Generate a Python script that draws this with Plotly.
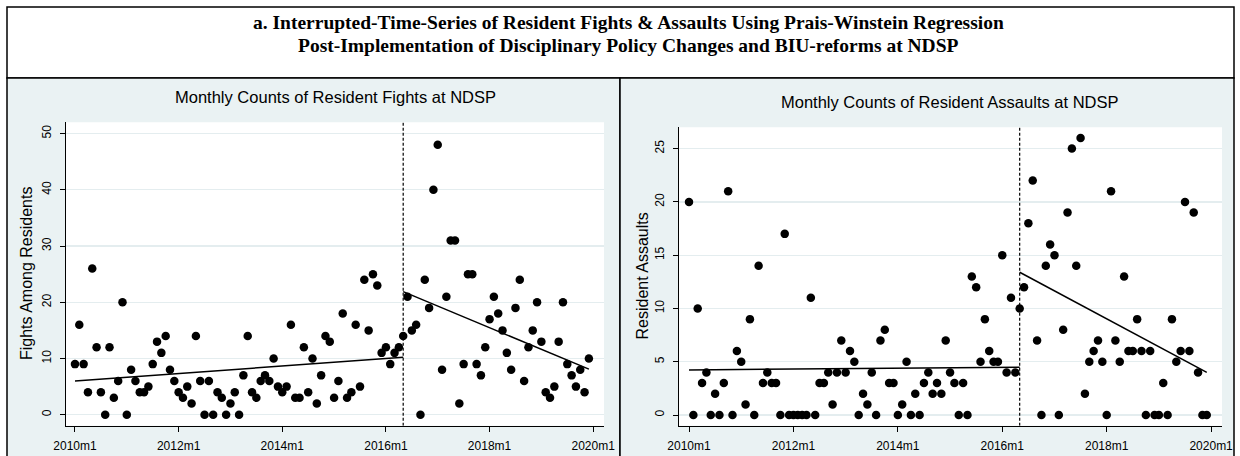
import plotly.graph_objects as go

# ---------------- data ----------------
months = list(range(120))  # 0 = 2010m1 ... 119 = 2019m12
tick_vals = [0, 24, 48, 72, 96, 120]
tick_text = ["2010m1", "2012m1", "2014m1", "2016m1", "2018m1", "2020m1"]

fights = [9, 16, 9, 4, 26, 12, 4, 0, 12, 3, 6, 20, 0, 8, 6, 4, 4, 5, 9, 13,
          11, 14, 8, 6, 4, 3, 5, 2, 14, 6, 0, 6, 0, 4, 3, 0, 2, 4, 0, 7,
          14, 4, 3, 6, 7, 6, 10, 5, 4, 5, 16, 3, 3, 12, 4, 10, 2, 7, 14, 13,
          3, 6, 18, 3, 4, 16, 5, 24, 15, 25, 23, 11, 12, 9, 11, 12, 14, 21, 15, 16,
          0, 24, 19, 40, 48, 8, 21, 31, 31, 2, 9, 25, 25, 9, 7, 12, 17, 21, 18, 15,
          11, 8, 19, 24, 6, 12, 15, 20, 13, 4, 3, 5, 13, 20, 9, 7, 5, 8, 4, 10]

assaults = [20, 0, 10, 3, 4, 0, 2, 0, 3, 21, 0, 6, 5, 1, 9, 0, 14, 3, 4, 3,
            3, 0, 17, 0, 0, 0, 0, 0, 11, 0, 3, 3, 4, 1, 4, 7, 4, 6, 5, 0,
            2, 1, 4, 0, 7, 8, 3, 3, 0, 1, 5, 0, 2, 0, 3, 4, 2, 3, 2, 7,
            4, 3, 0, 3, 0, 13, 12, 5, 9, 6, 5, 5, 15, 4, 11, 4, 10, 12, 18, 22,
            7, 0, 14, 16, 15, 0, 8, 19, 25, 14, 26, 2, 5, 6, 7, 5, 0, 21, 7, 5,
            13, 6, 6, 9, 6, 0, 6, 0, 0, 3, 0, 9, 5, 6, 20, 6, 19, 4, 0, 0]

intervention = 76  # 2016m5
fit_pre_months = [0, 76]
fit_post_months = [76, 119]
fights_fit_pre = [6.0, 10.2]
fights_fit_post = [21.9, 8.1]
assaults_fit_pre = [4.23, 4.48]
assaults_fit_post = [13.4, 4.0]

fights_yticks = [0, 10, 20, 30, 40, 50]
assaults_yticks = [0, 5, 10, 15, 20, 25]

# ---------------- layout helpers ----------------
W, H = 1240, 456
def px(x):
    return x / W
def py(y):
    return 1 - y / H

BG = "#EAF2F3"
GRID = "#E4EDEF"
SANS = "Liberation Sans, Arial, sans-serif"
SERIF = "Liberation Serif, Times New Roman, serif"

L_X = (66, 604)
L_Y = (122.3, 425.7)
R_X = (679, 1222)
R_Y = (127.3, 425.7)

fights_xrange = [-2.08, 122.5]
fights_yrange = [-1.95, 52.0]
assaults_xrange = [-2.3, 122.5]
assaults_yrange = [-1.0, 27.0]

fig = go.Figure()

def add_panel(xa, ya, counts, fit_pre, fit_post, yrange):
    fig.add_trace(go.Scatter(x=[intervention, intervention], y=yrange, mode="lines",
                             line=dict(color="black", width=1.2, dash="3px,2px"),
                             xaxis=xa, yaxis=ya, showlegend=False, hoverinfo="skip"))
    fig.add_trace(go.Scatter(x=months, y=counts, mode="markers",
                             marker=dict(color="black", size=8.5, line=dict(width=0)),
                             xaxis=xa, yaxis=ya, showlegend=False))
    fig.add_trace(go.Scatter(x=fit_pre_months, y=fit_pre, mode="lines",
                             line=dict(color="black", width=1.5),
                             xaxis=xa, yaxis=ya, showlegend=False))
    fig.add_trace(go.Scatter(x=fit_post_months, y=fit_post, mode="lines",
                             line=dict(color="black", width=1.5),
                             xaxis=xa, yaxis=ya, showlegend=False))

add_panel("x", "y", fights, fights_fit_pre, fights_fit_post, fights_yrange)
add_panel("x2", "y2", assaults, assaults_fit_pre, assaults_fit_post, assaults_yrange)

def xaxis_cfg(dom, rng, anchor):
    return dict(domain=[px(dom[0]), px(dom[1])], range=rng, tickvals=tick_vals,
                ticktext=tick_text, ticks="outside", ticklen=5, tickwidth=1,
                tickcolor="black", showline=True, linecolor="black", linewidth=1,
                showgrid=False, zeroline=False, ticklabelstandoff=4, anchor=anchor,
                automargin=False,
                tickfont=dict(family=SANS, size=12, color="black"))

def yaxis_cfg(dom, rng, ticks, anchor):
    return dict(domain=[py(dom[1]), py(dom[0])], range=rng, tickvals=ticks,
                tickangle=-90, ticks="outside", ticklen=5, tickwidth=1,
                tickcolor="black", showline=True, linecolor="black", linewidth=1,
                showgrid=True, gridcolor=GRID, gridwidth=1.2, zeroline=False,
                ticklabelstandoff=4, anchor=anchor, automargin=False,
                tickfont=dict(family=SANS, size=12, color="black"))

shapes = [
    dict(type="rect", xref="paper", yref="paper", x0=px(7), x1=px(1234), y0=py(78), y1=py(7),
         fillcolor="white", line=dict(color="black", width=1.5), layer="below"),
    dict(type="rect", xref="paper", yref="paper", x0=px(7), x1=px(620), y0=py(470), y1=py(78),
         fillcolor=BG, line=dict(color="black", width=1.5), layer="below"),
    dict(type="rect", xref="paper", yref="paper", x0=px(620), x1=px(1234), y0=py(470), y1=py(78),
         fillcolor=BG, line=dict(color="black", width=1.5), layer="below"),
    dict(type="rect", xref="paper", yref="paper", x0=px(L_X[0]), x1=px(L_X[1]), y0=py(L_Y[1]), y1=py(L_Y[0]),
         fillcolor="white", line=dict(width=0), layer="below"),
    dict(type="rect", xref="paper", yref="paper", x0=px(R_X[0]), x1=px(R_X[1]), y0=py(R_Y[1]), y1=py(R_Y[0]),
         fillcolor="white", line=dict(width=0), layer="below"),
]

annotations = [
    dict(text="<b>a. Interrupted-Time-Series of Resident Fights & Assaults Using Prais-Winstein Regression</b>",
         x=px(628), y=py(22), xref="paper", yref="paper", showarrow=False,
         xanchor="center", yanchor="middle", font=dict(family=SERIF, size=19.5, color="black")),
    dict(text="<b>Post-Implementation of Disciplinary Policy Changes and BIU-reforms at NDSP</b>",
         x=px(628), y=py(46), xref="paper", yref="paper", showarrow=False,
         xanchor="center", yanchor="middle", font=dict(family=SERIF, size=19.5, color="black")),
    dict(text="Monthly Counts of Resident Fights at NDSP",
         x=px((L_X[0] + L_X[1]) / 2), y=py(97), xref="paper", yref="paper", showarrow=False,
         xanchor="center", yanchor="middle", font=dict(family=SANS, size=16.5, color="black")),
    dict(text="Monthly Counts of Resident Assaults at NDSP",
         x=px((R_X[0] + R_X[1]) / 2), y=py(102), xref="paper", yref="paper", showarrow=False,
         xanchor="center", yanchor="middle", font=dict(family=SANS, size=16.5, color="black")),
    dict(text="Fights Among Residents", textangle=-90,
         x=px(26), y=py((L_Y[0] + L_Y[1]) / 2), xref="paper", yref="paper", showarrow=False,
         xanchor="center", yanchor="middle", font=dict(family=SANS, size=16, color="black")),
    dict(text="Resident Assaults", textangle=-90,
         x=px(642), y=py((R_Y[0] + R_Y[1]) / 2), xref="paper", yref="paper", showarrow=False,
         xanchor="center", yanchor="middle", font=dict(family=SANS, size=16, color="black")),
]

fig.update_layout(
    width=W, height=H, margin=dict(l=0, r=0, t=0, b=0, pad=0), autosize=False,
    paper_bgcolor="white", plot_bgcolor="white",
    xaxis=xaxis_cfg(L_X, fights_xrange, "y"),
    yaxis=yaxis_cfg(L_Y, fights_yrange, fights_yticks, "x"),
    xaxis2=xaxis_cfg(R_X, assaults_xrange, "y2"),
    yaxis2=yaxis_cfg(R_Y, assaults_yrange, assaults_yticks, "x2"),
    shapes=shapes, annotations=annotations,
)

fig.write_html(
    "out.html",
    config={"displayModeBar": False, "staticPlot": True},
    post_script="document.body.style.margin='0px';"
                "document.body.style.overflow='hidden';"
                "document.documentElement.style.overflow='hidden';",
)
